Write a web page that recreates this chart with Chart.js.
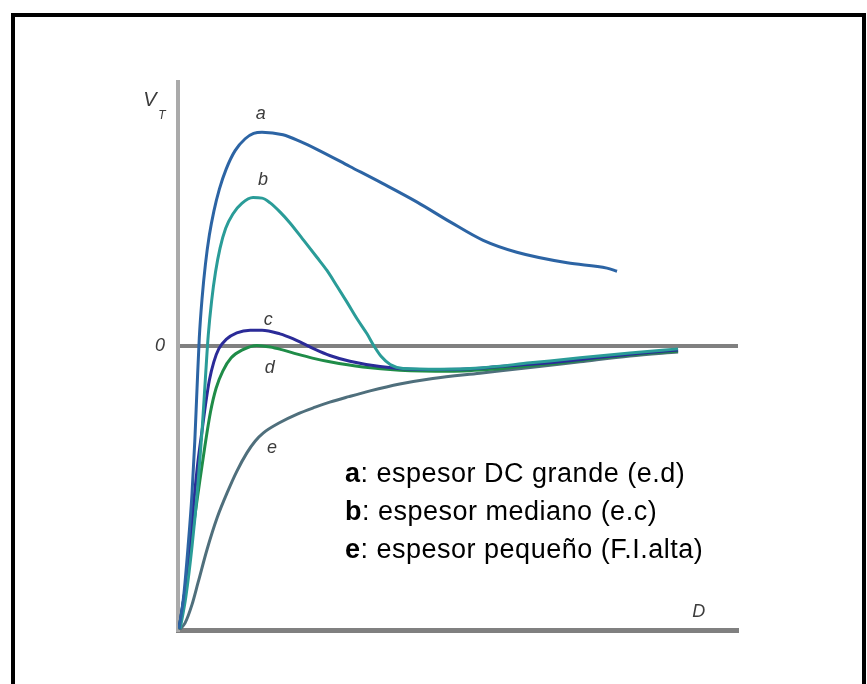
<!doctype html>
<html lang="es">
<head>
<meta charset="utf-8">
<title>Energía potencial total frente a la distancia</title>
<script src="https://cdn.jsdelivr.net/npm/chart.js@4.4.1/dist/chart.umd.min.js"></script>
<style>
  html, body { margin: 0; padding: 0; background: #fff; overflow: hidden; }
  #wrap { position: relative; width: 867px; height: 684px; }
  #marco {
    position: absolute; left: 11px; top: 13px; width: 855px; height: 720px;
    border: 4px solid #000; box-sizing: border-box;
  }
  #grafico { position: absolute; left: 0; top: 0; }
  #nota {
    position: absolute; left: 345px; top: 454px;
    font: 27px Arial, "Liberation Sans", sans-serif; line-height: 38px;
    letter-spacing: 0.5px; color: #000; white-space: nowrap;
  }
</style>
</head>
<body>
<div id="wrap">
  <div id="marco"></div>
  <canvas id="grafico" width="867" height="684"></canvas>
  <div id="nota">
    <div><b>a</b>: espesor DC grande (e.d)</div>
    <div><b>b</b>: espesor mediano (e.c)</div>
    <div><b>e</b>: espesor pequeño (F.I.alta)</div>
  </div>
</div>

<script>
  // distancia D (0-100) y energía V_T (0 = línea de referencia)
  const curvaA_D = [0.2, 1.0, 1.8, 2.5, 3.0, 3.4, 3.8, 4.3, 4.9, 5.6, 6.4, 7.4, 8.6, 10.2, 12.0, 13.5, 15.0, 18.75, 21.8, 24.8, 30.7, 36.6, 42.7, 48.6, 54.5, 60.5, 69.5, 76.6, 78.4];
  const curvaA_V = [-107, -95, -76, -56, -36, -16, 3, 18, 31, 42, 51, 59.5, 67, 74, 78.5, 80.5, 81, 80, 77.5, 74.5, 68, 61.5, 54.5, 47, 40, 35.5, 31.5, 29.5, 28.3];

  const curvaB_D = [0.4, 1.4, 2.5, 3.5, 4.3, 4.9, 5.4, 6.0, 6.7, 7.5, 8.5, 9.8, 11.4, 13.4, 15.0, 16.4, 18.2, 20.0, 22.3, 24.8, 26.6, 28.4, 30.2, 32.0, 33.75, 35.0, 36.3, 37.9, 40.2, 46.8, 53.9, 62.9, 71.8, 80.7, 89.3];
  const curvaB_V = [-107, -95, -76, -54, -32, -12, 4, 17, 28, 37, 44.5, 50, 54, 56.2, 56, 54.3, 50.8, 46.6, 40.4, 33.6, 28.6, 22.6, 16.5, 10.2, 4.6, 0, -4, -7, -8.5, -8.8, -8.3, -6.4, -4.5, -2.7, -1.1];

  const curvaC_D = [0.2, 1.4, 2.5, 3.5, 4.3, 5.0, 5.6, 6.4, 7.3, 8.6, 10.5, 12.9, 15.0, 18.2, 20.5, 22.3, 24.5, 27.1, 30.7, 36.1, 43.2, 50.4, 57.5, 68.2, 75.4, 82.5, 89.3];
  const curvaC_V = [-107, -90, -66, -45, -32, -21, -13, -6, -1, 2.5, 5, 6, 6, 4.6, 2.8, 1, -1.3, -3.6, -5.8, -7.8, -8.9, -8.8, -7.8, -6, -4.3, -2.8, -1.5];

  const curvaD_D = [0.2, 1.3, 2.5, 3.7, 4.8, 5.8, 6.8, 8.0, 9.5, 11.5, 14.1, 16.5, 18.5, 21.3, 24.0, 27.1, 33.0, 39.6, 48.6, 57.5, 66.4, 75.4, 82.5, 89.3];
  const curvaD_V = [-107, -92, -72, -54, -38, -25, -16, -9.5, -4.5, -1.5, 0.2, -0.4, -1.4, -3.1, -4.6, -6, -8, -9.2, -9.6, -8.6, -6.8, -4.6, -3, -1.9];

  const curvaE_D = [0.2, 1.25, 2.5, 3.6, 5.2, 7.0, 8.9, 10.5, 12.3, 13.8, 15.2, 18.2, 21.3, 24.5, 27.1, 30.5, 34.3, 39.6, 45.5, 53.9, 62.9, 71.8, 80.7, 89.3];
  const curvaE_V = [-107.6, -105, -98, -89.5, -77, -65, -55, -47.5, -40.5, -36, -33, -29, -25.8, -23.2, -21.3, -19.2, -17, -14.4, -12.3, -10.3, -8.2, -6, -3.8, -2.3];

  // letra de cada curva y dónde va escrita
  const nombres = ['a', 'b', 'c', 'd', 'e'];
  const nombreD = [14.8, 15.2, 16.1, 16.4, 16.8];
  const nombreV = [87.9, 62.9, 9.8, -8.3, -38.6];

  const colores = ['#2c64a4', '#2a9c98', '#2b2b98', '#1f8c48', '#4f6f7c'];

  function puntos(ds, vs) {
    return ds.map((d, i) => ({ x: d, y: vs[i] }));
  }

  const series = [
    puntos(curvaA_D, curvaA_V),
    puntos(curvaB_D, curvaB_V),
    puntos(curvaC_D, curvaC_V),
    puntos(curvaD_D, curvaD_V),
    puntos(curvaE_D, curvaE_V)
  ];

  const fuente = '"Liberation Sans", Arial, sans-serif';

  const etiquetas = {
    id: 'etiquetas',
    afterDraw(chart) {
      const { ctx, chartArea: ca, scales: { x, y } } = chart;
      ctx.save();
      ctx.fillStyle = '#3c3c3c';
      ctx.textAlign = 'center';
      ctx.textBaseline = 'middle';

      ctx.font = 'italic 18px ' + fuente;
      nombres.forEach((t, i) => {
        ctx.fillText(t, x.getPixelForValue(nombreD[i]), y.getPixelForValue(nombreV[i]));
      });

      // nombres de los ejes
      ctx.font = 'italic 20px ' + fuente;
      ctx.fillText('V', ca.left - 28, ca.top + 18);
      ctx.font = 'italic 12px ' + fuente;
      ctx.fillText('T', ca.left - 16, ca.top + 34);
      ctx.font = 'italic 18px ' + fuente;
      ctx.fillText('0', ca.left - 18, y.getPixelForValue(0));
      ctx.fillText('D', x.getPixelForValue(93), ca.bottom - 18);
      ctx.restore();
    }
  };

  new Chart(document.getElementById('grafico'), {
    type: 'scatter',
    data: {
      datasets: series.map((s, i) => ({
        label: nombres[i],
        data: s,
        showLine: true,
        borderColor: colores[i],
        backgroundColor: colores[i],
        borderWidth: 3,
        pointRadius: 0,
        cubicInterpolationMode: 'monotone'
      }))
    },
    options: {
      responsive: false,
      animation: false,
      layout: { padding: { left: 178, right: 129, top: 82, bottom: 54 } },
      plugins: { legend: { display: false }, tooltip: { enabled: false } },
      scales: {
        x: {
          type: 'linear', min: 0, max: 100,
          ticks: { display: false },
          grid: { display: false, drawTicks: false },
          border: { display: true, color: '#808080', width: 5 }
        },
        y: {
          type: 'linear', min: -107.6, max: 100,
          ticks: { display: false },
          afterBuildTicks: s => { s.ticks = [{ value: 0 }]; },
          grid: { color: '#808080', lineWidth: 4, drawTicks: false },
          border: { display: true, color: '#aaaaaa', width: 4 }
        }
      }
    },
    plugins: [etiquetas]
  });
</script>
</body>
</html>
